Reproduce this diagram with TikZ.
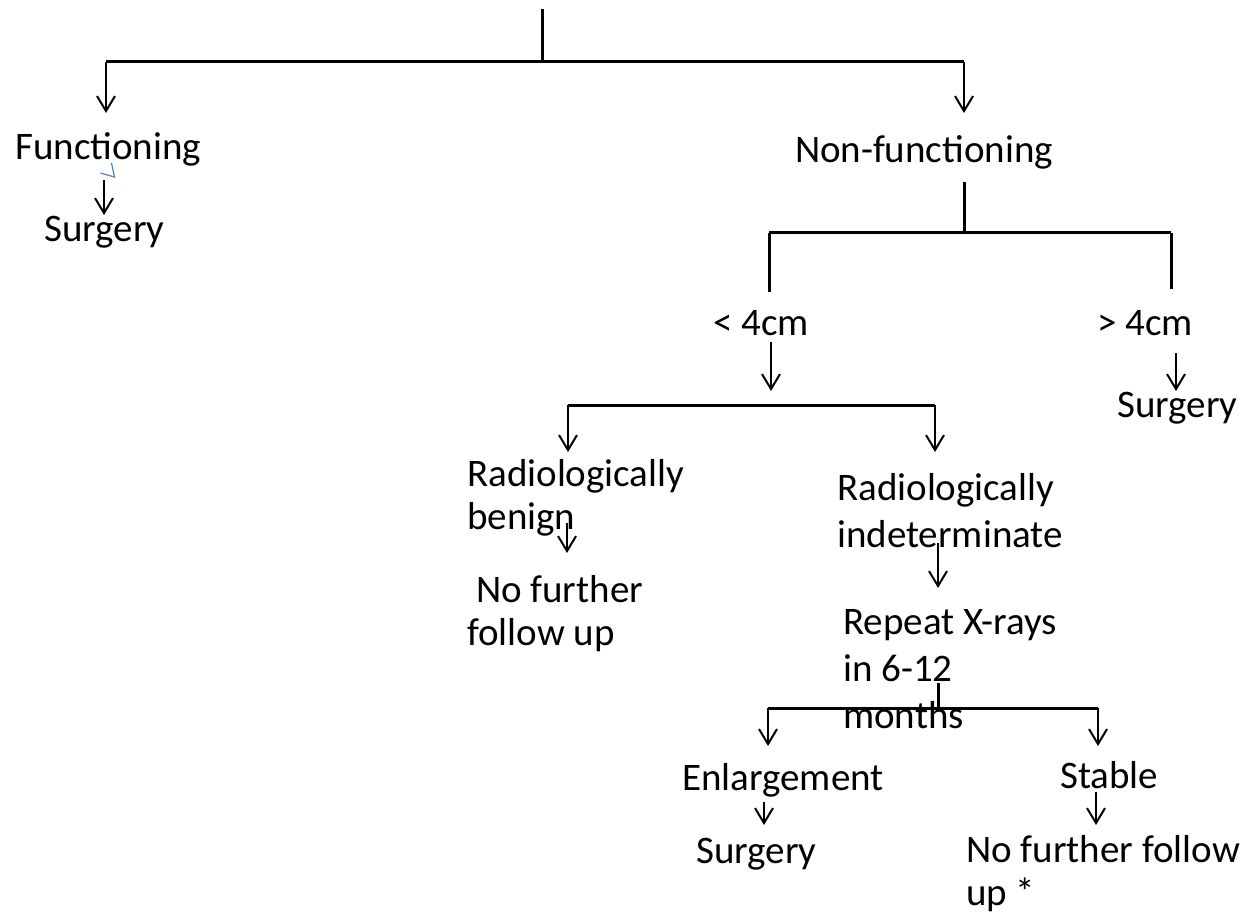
\documentclass[tikz,border=0pt]{standalone}
\usepackage{fontspec}
\setmainfont{Carlito}
\usetikzlibrary{arrows.meta}
\definecolor{markblue}{RGB}{79,129,189}
\begin{document}
\begin{tikzpicture}[x=1pt,y=-1pt]
\tikzstyle{every node}+=[inner sep=0pt,anchor=base west,align=left,font=\fontsize{39}{45}\selectfont]
\tikzstyle{bar}=[black,line width=3pt]
\tikzstyle{arr}=[black,line width=2pt,-{Straight Barb[length=15pt,width=18pt,line width=2pt]}]
\useasboundingbox (0,0) rectangle (1242,917);
\node (func) at (15,160) {Functioning};
\node (surgA) at (44,242) {Surgery};
\node (nonfunc) at (795,163) {Non-functioning};
\node (small) at (713,335) {< 4cm};
\node (large) at (1097,335) {> 4cm};
\node (surgB) at (1117,417) {Surgery};
\node (benign) at (467,529) {Radiologically\\[-2pt]benign};
\node (nofurA) at (467,645) {\ No further\\[-2pt]follow up};
\node (indet) at (837,547) {Radiologically\\[2pt]indeterminate};
\node (repeat) at (843,728) {Repeat X-rays\\[2pt]in 6-12\\[2pt]months};
\node (enlarge) at (682,790) {Enlargement};
\node (stable) at (1060,788) {Stable};
\node (surgC) at (696,863) {Surgery};
\node (nofurB) at (966,905) {No further follow\\[-2pt]up *};
\coordinate (top) at (542,9);
\coordinate (topj) at (542,62);
\coordinate (topl) at (106,62);
\coordinate (topr) at (964,62);
\coordinate (funcin) at (106,113);
\coordinate (nonin) at (964,113);
\coordinate (funcout) at (104,180);
\coordinate (surgAin) at (104,215);
\coordinate (nonout) at (964,182);
\coordinate (sizej) at (964,233);
\coordinate (sizel) at (769,233);
\coordinate (sizer) at (1171,233);
\coordinate (smallin) at (769,292);
\coordinate (largein) at (1171,289);
\coordinate (smallout) at (771,342);
\coordinate (smallend) at (771,391);
\coordinate (largeout) at (1176,353);
\coordinate (surgBin) at (1176,391);
\coordinate (radl) at (568,405);
\coordinate (radr) at (935,405);
\coordinate (benignin) at (568,452);
\coordinate (indetin) at (935,452);
\coordinate (benignout) at (567,523);
\coordinate (nofurAin) at (567,553);
\coordinate (indetout) at (938,543);
\coordinate (repeatin) at (938,588);
\coordinate (repeatout) at (938,683);
\coordinate (resj) at (938,708);
\coordinate (resl) at (768,708);
\coordinate (resr) at (1098,708);
\coordinate (enlargein) at (768,746);
\coordinate (stablein) at (1098,746);
\coordinate (enlargeout) at (764,802);
\coordinate (surgCin) at (764,825);
\coordinate (stableout) at (1096,792);
\coordinate (nofurBin) at (1096,825);
\draw [bar] (top) -- (topj);
\draw [bar] (topl) -- (topr);
\draw [arr] (topl) -- (funcin);
\draw [arr] (topr) -- (nonin);
\draw [arr] (funcout) -- (surgAin);
\draw [markblue,line width=1.2pt] (111.5,163) -- (114.5,177) -- (100.5,173);
\draw [bar] (nonout) -- (sizej);
\draw [bar] (sizel) -- (sizer);
\draw [bar] (sizel) -- (smallin);
\draw [bar] (sizer) -- (largein);
\draw [arr] (smallout) -- (smallend);
\draw [arr] (largeout) -- (surgBin);
\draw [bar] (radl) -- (radr);
\draw [arr] (radl) -- (benignin);
\draw [arr] (radr) -- (indetin);
\draw [arr] (benignout) -- (nofurAin);
\draw [arr] (indetout) -- (repeatin);
\draw [bar] (repeatout) -- (resj);
\draw [bar] (resl) -- (resr);
\draw [arr] (resl) -- (enlargein);
\draw [arr] (resr) -- (stablein);
\draw [arr] (enlargeout) -- (surgCin);
\draw [arr] (stableout) -- (nofurBin);
\end{tikzpicture}
\end{document}
